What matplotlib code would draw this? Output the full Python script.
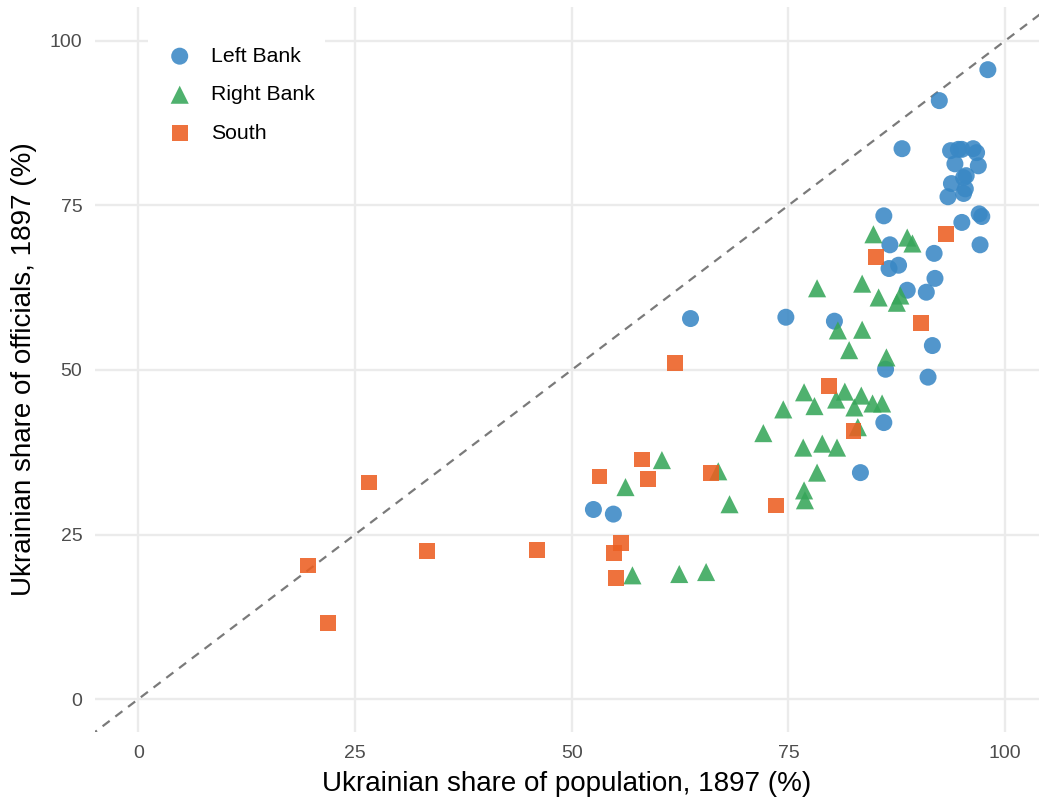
'''
Ukrainian share of officials vs population, 1897
'''

#libraries
import matplotlib.pyplot as plt
import matplotlib
##########

#data
left_x = [98.0, 92.4, 88.1, 93.7, 94.6, 95.0, 96.3, 96.7, 94.2, 96.9, 95.5, 95.2, 93.8,
          95.4, 93.4, 95.2, 86.0, 95.0, 97.0, 97.3, 97.1, 86.7, 91.8, 86.6, 87.7, 91.9,
          88.7, 90.9, 91.6, 86.2, 91.1, 74.7, 80.3, 86.0, 83.3, 63.7, 52.5, 54.8]
left_y = [95.6, 90.9, 83.6, 83.3, 83.5, 83.5, 83.6, 83.0, 81.3, 81.0, 79.5, 79.2, 78.3,
          77.5, 76.3, 76.8, 73.4, 72.4, 73.7, 73.3, 69.0, 69.0, 67.7, 65.4, 65.9, 63.9,
          62.1, 61.8, 53.7, 50.1, 48.9, 58.0, 57.4, 42.0, 34.4, 57.8, 28.8, 28.1]

right_x = [84.8, 88.7, 89.3, 78.3, 83.5, 85.4, 87.5, 87.9, 80.7, 83.5, 82.0, 86.3, 76.8,
           81.5, 78.0, 80.5, 83.4, 82.6, 84.7, 85.8, 74.4, 83.0, 72.1, 76.7, 78.9, 80.6,
           78.3, 76.8, 76.9, 66.9, 68.2, 60.4, 56.2, 57.0, 62.4, 65.5]
right_y = [70.6, 70.1, 69.2, 62.4, 63.1, 61.0, 60.2, 61.3, 56.0, 56.1, 53.0, 51.9, 46.6,
           46.7, 44.5, 45.5, 46.1, 44.3, 44.9, 44.9, 44.0, 41.3, 40.4, 38.2, 38.8, 38.2,
           34.4, 31.7, 30.2, 34.6, 29.6, 36.3, 32.2, 18.8, 19.0, 19.3]

south_x = [93.2, 85.1, 90.3, 79.7, 82.5, 61.9, 58.1, 53.2, 58.8, 66.1, 73.6, 55.7, 54.9,
           55.1, 26.6, 19.6, 21.9, 33.3, 46.0]
south_y = [70.6, 67.1, 57.1, 47.6, 40.7, 51.0, 36.4, 33.8, 33.4, 34.4, 29.4, 23.7, 22.2,
           18.4, 32.9, 20.3, 11.5, 22.5, 22.6]

ticks = [0, 25, 50, 75, 100]
##########

matplotlib.rc('font', family=['Liberation Sans', 'DejaVu Sans'])

fig = plt.figure(figsize=(10.39, 8.01), dpi=100)
ax = fig.add_axes([0.0914, 0.0861, 0.9086, 0.905])

ax.plot([-10, 110], [-10, 110], linestyle=(0, (4, 3.2)), color='#7a7a7a', linewidth=1.6, zorder=1)

ax.scatter(left_x, left_y, s=150, marker='o', color='#3a88c5', alpha=0.88,
           edgecolors='none', label='Left Bank', zorder=3)
ax.scatter(right_x, right_y, s=170, marker='^', color='#37a65a', alpha=0.88,
           edgecolors='none', label='Right Bank', zorder=3)
ax.scatter(south_x, south_y, s=130, marker='s', color='#ec5f22', alpha=0.88,
           edgecolors='none', label='South', zorder=3)

ax.set_xlim(-5, 103.9)
ax.set_ylim(-5, 105.1)
ax.set_xticks(ticks)
ax.set_yticks(ticks)
ax.grid(which='major', color='#ebebeb', linewidth=1.7, zorder=0)
ax.set_axisbelow(True)
for sp in ax.spines.values():
    sp.set_visible(False)
ax.tick_params(length=0, labelsize=14, labelcolor='#4d4d4d', pad=9)

ax.set_xlabel('Ukrainian share of population, 1897 (%)', fontsize=20, color='black', labelpad=7)
ax.set_ylabel('Ukrainian share of officials, 1897 (%)', fontsize=20, color='black', labelpad=9)

leg = ax.legend(loc='upper left', bbox_to_anchor=(0.056, 0.960), fontsize=15.3, frameon=True,
                fancybox=False, borderpad=0.5, labelspacing=0.92, handlelength=2.0,
                handletextpad=0.46, borderaxespad=0, markerscale=1.0)
leg.get_frame().set_facecolor('white')
leg.get_frame().set_edgecolor('none')
leg.get_frame().set_alpha(1)

fig.savefig('out.png', dpi=100)
